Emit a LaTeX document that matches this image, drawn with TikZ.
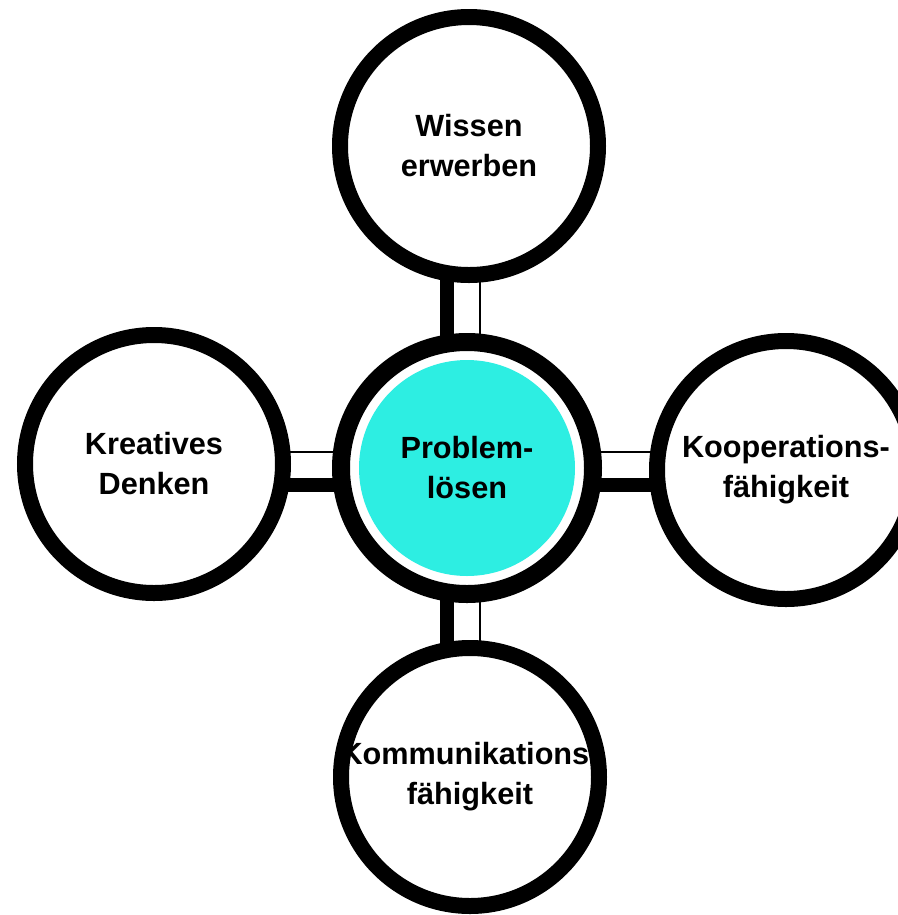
\documentclass[tikz,border=0pt]{standalone}
\usepackage{fontspec}
\setmainfont{Liberation Sans}
\usetikzlibrary{calc,backgrounds}

\definecolor{tuerkis}{RGB}{45,238,226}
\tikzset{every picture/.style={line width=0.75pt}}
\tikzset{
  topic/.style={circle, draw, line width=12pt, fill=white, minimum size=193.5pt, inner sep=-12pt, align=center, font=\bfseries\fontsize{23}{30}\selectfont},
  core/.style={topic, line width=13.5pt, minimum size=189pt, path picture={\fill[tuerkis] (path picture bounding box.center) circle (81pt);}},
  thickbar/.style={line width=11pt},
  thinbar/.style={line width=1.5pt},
}

\begin{document}
\begin{tikzpicture}[x=0.75pt,y=0.75pt,yscale=-1,xscale=1]
\clip (0,0) rectangle (898,915);

%Circles
\node[core]  (mid)   at (467,468) {Problem-\\lösen};
\node[topic] (top)   at (469,146) {Wissen\\erwerben};
\node[topic] (left)  at (154,464) {Kreatives\\Denken};
\node[topic] (right) at (786,470) {Kooperations-\\fähigkeit};
\node[topic] (bot)   at (470,777) {Kommunikations-\\fähigkeit};

%Connectors
\begin{scope}[on background layer]
\draw[thickbar] ($(top)+(-22,0)$) -- ($(mid)+(-20,0)$);
\draw[thinbar]  ($(top)+(11,0)$) -- ($(mid)+(13,0)$);
\draw[thickbar] ($(bot)+(-23,0)$) -- ($(mid)+(-20,0)$);
\draw[thinbar]  ($(bot)+(10,0)$) -- ($(mid)+(13,0)$);
\draw[thickbar] ($(left)+(0,21)$) -- ($(mid)+(0,17)$);
\draw[thinbar]  ($(left)+(0,-12)$) -- ($(mid)+(0,-16)$);
\draw[thickbar] ($(right)+(0,15)$) -- ($(mid)+(0,17)$);
\draw[thinbar]  ($(right)+(0,-18)$) -- ($(mid)+(0,-16)$);
\end{scope}

\end{tikzpicture}
\end{document}
